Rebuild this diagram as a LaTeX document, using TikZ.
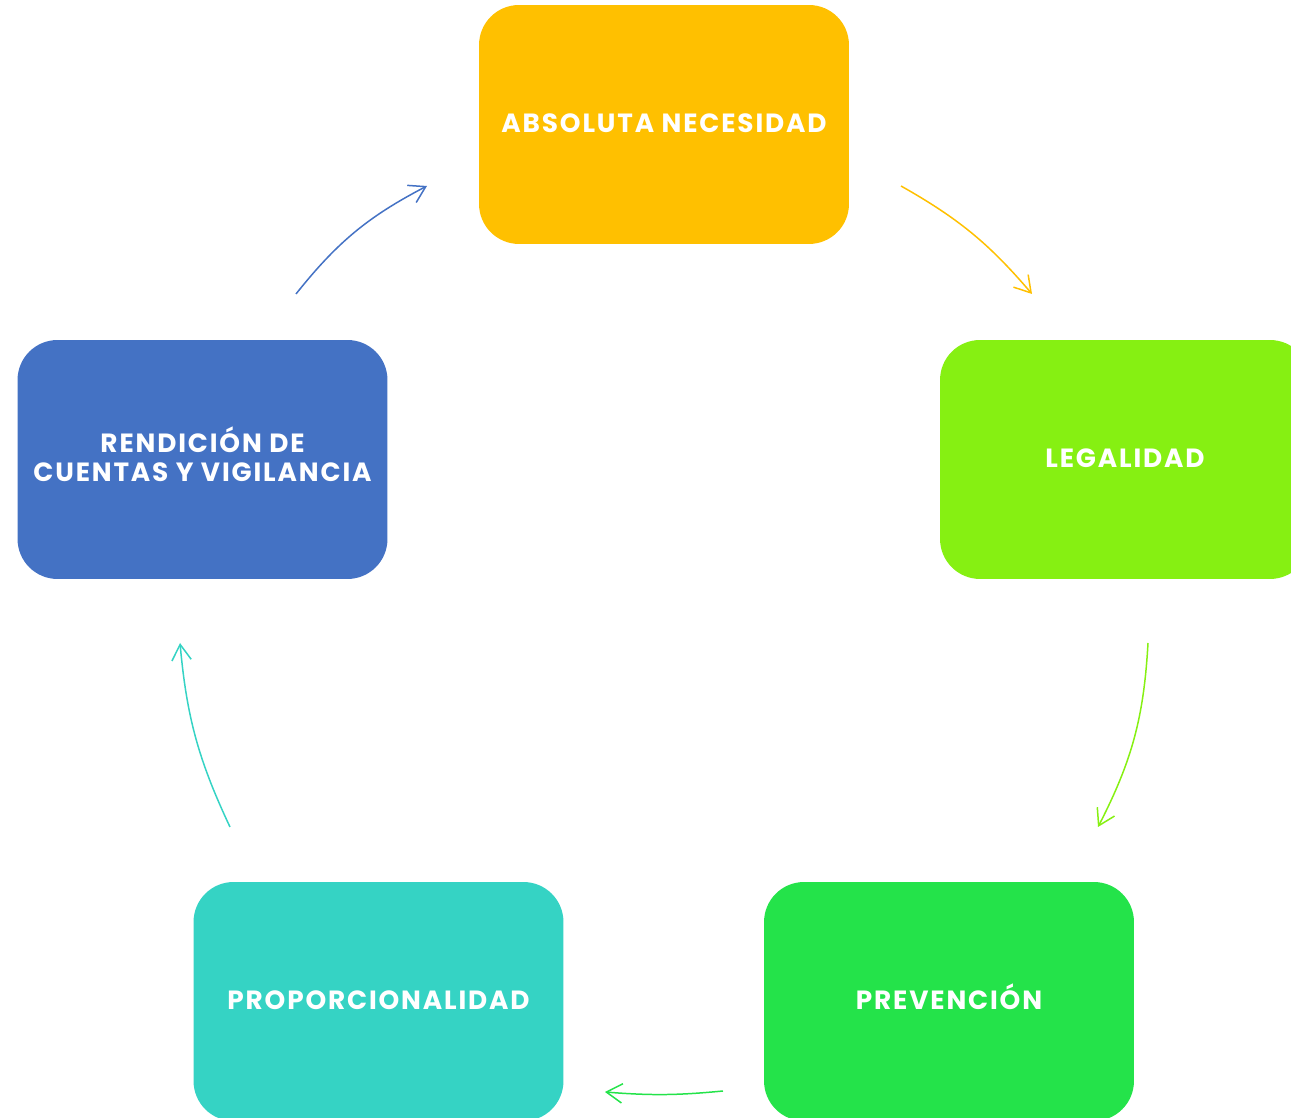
\documentclass[tikz,border=0pt]{standalone}
\usepackage{fontspec}
\setmainfont{Poppins}
\newfontfamily\boxfont{Poppins}[LetterSpace=7]
\usetikzlibrary{arrows.meta}
\definecolor{amber}{HTML}{FFC000}
\definecolor{lime}{HTML}{86F012}
\definecolor{grass}{HTML}{24E34A}
\definecolor{teal}{HTML}{35D3C4}
\definecolor{steel}{HTML}{4472C4}
\tikzset{
    box/.style={rounded corners=0.8cm, minimum width=7.4cm, minimum height=4.78cm,
        inner sep=0pt, align=center, text=white, text height=0.37cm, text depth=0.05cm,
        font=\boxfont\bfseries\fontsize{15}{16.5}\selectfont},
    link/.style={-{Straight Barb[length=9pt,width=11pt]}, line width=0.85pt}
}
\begin{document}
\begin{tikzpicture}[x=0.02cm,y=0.02cm]
    \useasboundingbox (0,0) rectangle (1291,1118);
    \clip (0,0) rectangle (1291,1118);
    % the five boxes
    \node[box,fill=amber] (nec) at (664,993.5) {ABSOLUTA NECESIDAD};
    \node[box,fill=lime] (leg) at (1125,658.5) {LEGALIDAD};
    \node[box,fill=grass] (pre) at (949,116.5) {PREVENCIÓN};
    \node[box,fill=teal] (pro) at (378.5,116.5) {PROPORCIONALIDAD};
    \node[box,fill=steel,text height=0.9cm,text depth=0cm] (ren) at (202.5,658.5)
        {RENDICIÓN DE\\CUENTAS Y VIGILANCIA};
    % arrow ends
    \coordinate (n1) at (901,932);  \coordinate (n2) at (1032,824);
    \coordinate (l1) at (1148,475); \coordinate (l2) at (1098,291);
    \coordinate (p1) at (723,27);   \coordinate (p2) at (605,26);
    \coordinate (o1) at (230,291);  \coordinate (o2) at (180,475);
    \coordinate (r1) at (296,824);  \coordinate (r2) at (427,932);
    \draw[link,amber] (n1) to[bend left=10] (n2);
    \draw[link,lime] (l1) to[bend left=12] (l2);
    \draw[link,grass] (p1) to[bend left=5] (p2);
    \draw[link,teal] (o1) to[bend left=10] (o2);
    \draw[link,steel] (r1) to[bend left=12] (r2);
\end{tikzpicture}
\end{document}
